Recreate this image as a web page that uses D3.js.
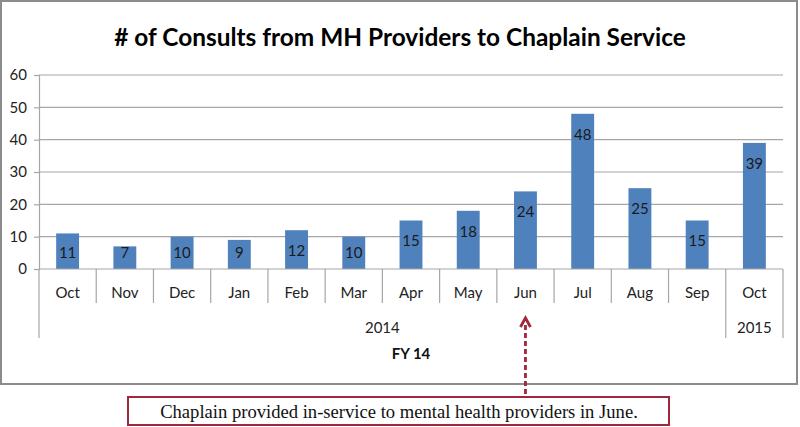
<!DOCTYPE html>
<html>
<head>
<meta charset="utf-8">
<script src="https://cdn.jsdelivr.net/npm/d3@7"></script>
<style>
  html, body { margin: 0; padding: 0; background: #fff; }
  svg { display: block; }
</style>
</head>
<body>
<svg id="chart" width="800" height="427"></svg>
<script>
// ---- data ----
const months = ["Oct","Nov","Dec","Jan","Feb","Mar","Apr","May","Jun","Jul","Aug","Sep","Oct"];
const values = [11, 7, 10, 9, 12, 10, 15, 18, 24, 48, 25, 15, 39];
const years = [{label: "2014", start: 0, end: 12}, {label: "2015", start: 12, end: 13}];
const fiscalLabel = "FY 14";
const yTicks = [0, 10, 20, 30, 40, 50, 60];
const title = "# of Consults from MH Providers to Chaplain Service";
const note = "Chaplain provided in-service to mental health providers in June.";
const noteMonthIndex = 8;

const svg = d3.select("#chart");
const font = "Lato, 'Noto Sans', sans-serif";
const gridColor = "#a6a6a6";
const barColor = "#4f81bd";
const noteColor = "#a0283a";

// outer chart border
svg.append("rect").attr("x", 1).attr("y", 1).attr("width", 796).attr("height", 383)
  .attr("fill", "#fff").attr("stroke", "#8c8c8c").attr("stroke-width", 2);

const plot = {left: 39, right: 783, top: 75, bottom: 269};
const idx = months.map((m, i) => i);
const x = d3.scaleBand().domain(idx).range([plot.left, plot.right]).paddingInner(0.6).paddingOuter(0.3);
const xCat = d3.scaleBand().domain(idx).range([plot.left, plot.right]);
const y = d3.scaleLinear().domain([0, 60]).range([plot.bottom, plot.top]);

// title
const t = svg.append("text").attr("x", 400).attr("y", 46).attr("text-anchor", "middle")
  .attr("font-family", font).attr("font-weight", "bold").attr("font-size", 26).attr("fill", "#000")
  .text(title);
{
  const w = t.node().getComputedTextLength();
  t.attr("font-size", 26 * 572 / w);
}

// gridlines
const gy = svg.append("g");
gy.selectAll("line").data(yTicks.filter(d => d > 0)).join("line")
  .attr("x1", plot.left).attr("x2", plot.right)
  .attr("y1", d => y(d)).attr("y2", d => y(d))
  .attr("stroke", gridColor).attr("stroke-width", 1.2);

// y axis
const yAxis = d3.axisLeft(y).tickValues(yTicks).tickSize(5).tickPadding(7);
const ya = svg.append("g").attr("transform", `translate(${plot.left},0)`).call(yAxis);
ya.select(".domain").attr("stroke", gridColor).attr("stroke-width", 1.2);
ya.selectAll(".tick line").attr("stroke", gridColor).attr("stroke-width", 1.2);
ya.selectAll(".tick text").attr("font-family", font).attr("font-size", 15).attr("fill", "#222");
// extend y axis line down through the category levels
svg.append("line").attr("x1", plot.left).attr("x2", plot.left).attr("y1", plot.bottom).attr("y2", 338)
  .attr("stroke", gridColor).attr("stroke-width", 1.2);

// bars
svg.append("g").selectAll("rect").data(values).join("rect")
  .attr("x", (d, i) => x(i)).attr("width", x.bandwidth())
  .attr("y", d => y(d)).attr("height", d => y(0) - y(d))
  .attr("fill", barColor);

// data labels (inside end)
svg.append("g").selectAll("text").data(values).join("text")
  .attr("x", (d, i) => x(i) + x.bandwidth() / 2)
  .attr("y", d => Math.min(y(d) + 20.5, y(0) - 16.5))
  .attr("dy", "0.35em").attr("text-anchor", "middle")
  .attr("font-family", font).attr("font-size", 15).attr("fill", "#1a1a1a")
  .text(d => d);

// x axis baseline
svg.append("line").attr("x1", plot.left).attr("x2", plot.right).attr("y1", plot.bottom).attr("y2", plot.bottom)
  .attr("stroke", gridColor).attr("stroke-width", 1.2);

// month separators
svg.append("g").selectAll("line").data(d3.range(1, months.length + 1)).join("line")
  .attr("x1", d => xCat(d - 1) + xCat.bandwidth()).attr("x2", d => xCat(d - 1) + xCat.bandwidth())
  .attr("y1", plot.bottom).attr("y2", d => (d === 12 || d === 13) ? 338 : 303)
  .attr("stroke", gridColor).attr("stroke-width", 1.2);

// month labels
svg.append("g").selectAll("text").data(months).join("text")
  .attr("x", (d, i) => xCat(i) + xCat.bandwidth() / 2).attr("y", 293).attr("dy", "0.35em")
  .attr("text-anchor", "middle").attr("font-family", font).attr("font-size", 15).attr("fill", "#222")
  .text(d => d);

// year labels
svg.append("g").selectAll("text").data(years).join("text")
  .attr("x", d => (xCat(d.start) + xCat(d.end - 1) + xCat.bandwidth()) / 2)
  .attr("y", 328).attr("dy", "0.35em")
  .attr("text-anchor", "middle").attr("font-family", font).attr("font-size", 15).attr("fill", "#222")
  .text(d => d.label);

// fiscal year label
svg.append("text").attr("x", (plot.left + plot.right) / 2).attr("y", 354).attr("dy", "0.35em")
  .attr("text-anchor", "middle").attr("font-family", font).attr("font-size", 15).attr("font-weight", "bold")
  .attr("fill", "#111").text(fiscalLabel);

// annotation arrow
const ax = xCat(noteMonthIndex) + xCat.bandwidth() / 2;
svg.append("line").attr("x1", ax).attr("x2", ax).attr("y1", 325).attr("y2", 396)
  .attr("stroke", noteColor).attr("stroke-width", 2.8).attr("stroke-dasharray", "5,3");
svg.append("path")
  .attr("d", `M${ax - 5},${327} L${ax},${318} L${ax + 5},${327}`)
  .attr("fill", "none").attr("stroke", noteColor).attr("stroke-width", 2.8)
  .attr("stroke-linejoin", "miter");

// annotation box
svg.append("rect").attr("x", 128).attr("y", 397).attr("width", 541).attr("height", 28)
  .attr("fill", "#fff").attr("stroke", noteColor).attr("stroke-width", 2);
const nt = svg.append("text").attr("x", 399).attr("y", 411.5).attr("dy", "0.35em").attr("text-anchor", "middle")
  .attr("font-family", "'Liberation Serif', 'Times New Roman', serif").attr("font-size", 17).attr("fill", "#111")
  .text(note);
{
  const w = nt.node().getComputedTextLength();
  nt.attr("font-size", 17 * 478 / w);
}
</script>
</body>
</html>
